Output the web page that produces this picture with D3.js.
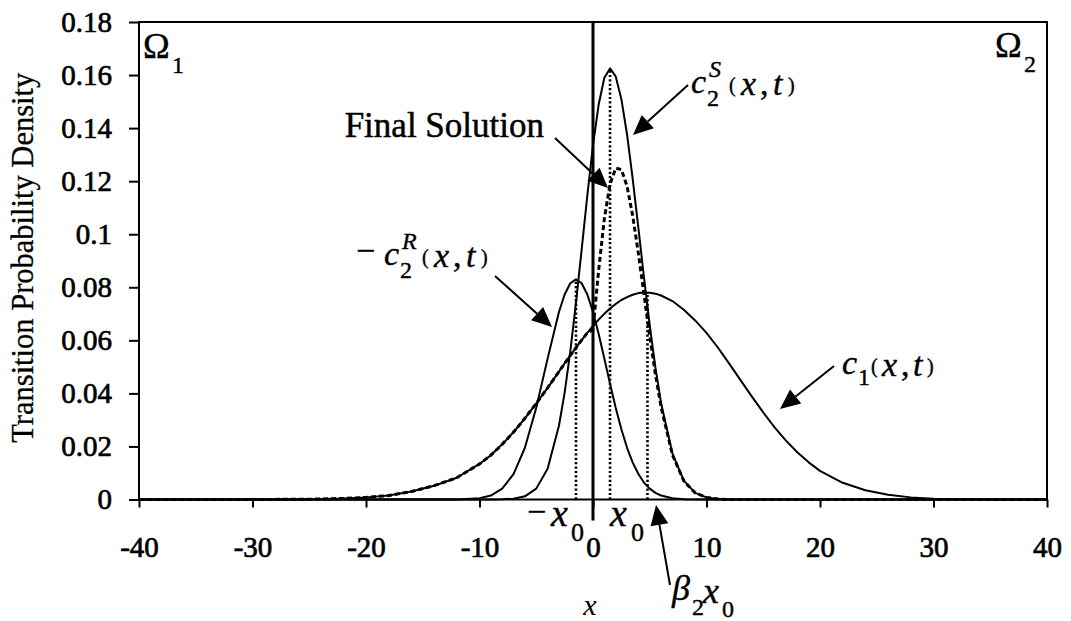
<!DOCTYPE html>
<html>
<head>
<meta charset="utf-8">
<script src="https://cdn.jsdelivr.net/npm/d3@7"></script>
<style>
  html, body { margin: 0; padding: 0; background: #fff; }
  svg { display: block; }
  text { font-family: "Liberation Serif", "Times New Roman", serif; fill: #000; }
</style>
</head>
<body>
<svg id="chart" width="1071" height="621"></svg>
<script>
// Sample positions along x shared by all curves
const xs = [-40,-35,-30,-25,-22,-20,-18,-16,-14,-12,
            -10,-9,-8,-7,-6,-5,-4,-3,
            -2.5,-2,-1.5,-1,-0.5,0,
            0.5,1,1.5,2,2.5,3,3.5,4,4.5,5,5.5,6,
            7,8,9,10,11,12,13,14,15,16,17,18,19,20,
            22,24,26,28,30,35,40];

// c1(x,t): broad density in region 1
const c1Vals = [0,0,0,0.0001,0.0004,0.0008,0.0015,0.0030,0.0052,0.0082,
                0.0134,0.0167,0.0208,0.0254,0.0306,0.0362,0.0421,0.0482,
                0.0513,0.0543,0.0572,0.0601,0.0628,0.0654,
                0.0678,0.0700,0.0720,0.0737,0.0752,0.0763,0.0772,0.0778,0.0780,0.0779,0.0776,0.0769,
                0.0748,0.0715,0.0675,0.0628,0.0573,0.0512,0.0450,0.0388,0.0328,0.0272,0.0222,0.0178,0.0140,0.0108,
                0.0063,0.0035,0.0018,0.0008,0.0003,0,0];

// c2^S(x,t): source part in region 2
const c2SVals = [0,0,0,0,0,0,0,0,0,0,
                 0,0,0.0001,0.0003,0.0012,0.0041,0.0116,0.0278,
                 0.0402,0.0558,0.0741,0.0942,0.1146,0.1335,
                 0.1489,0.1590,0.1625,0.1595,0.1509,0.1376,0.1208,0.1023,0.0834,0.0656,0.0497,0.0363,
                 0.0173,0.0071,0.0025,0.0008,0.0002,0,0,0,0,0,0,0,0,0,
                 0,0,0,0,0,0,0];

// -c2^R(x,t): reflected part, shown with its sign flipped
const negC2RVals = [0,0,0,0,0,0,0,0,0,0,
                    0.0005,0.0015,0.0041,0.0096,0.0195,0.0346,0.0531,0.0707,
                    0.0773,0.0815,0.0830,0.0815,0.0773,0.0707,
                    0.0624,0.0531,0.0436,0.0346,0.0265,0.0195,0.0139,0.0096,0.0063,0.0041,0.0025,0.0015,
                    0.0005,0.0001,0,0,0,0,0,0,0,0,0,0,0,0,
                    0,0,0,0,0,0,0];

// Final solution: c1 on the left of the interface, c2^S + c2^R on the right
const finalVals = [0,0,0,0.0001,0.0004,0.0008,0.0015,0.0030,0.0052,0.0082,
                   0.0134,0.0167,0.0208,0.0254,0.0306,0.0362,0.0421,0.0482,
                   0.0513,0.0543,0.0572,0.0601,0.0628,0.0640,
                   0.0865,0.1059,0.1189,0.1249,0.1244,0.1181,0.1069,0.0927,0.0771,0.0615,0.0472,0.0348,
                   0.0168,0.0070,0.0025,0.0008,0.0002,0,0,0,0,0,0,0,0,0,
                   0,0,0,0,0,0,0];

// Dotted markers at -x0, x0 and beta2*x0, up to the peaks they mark
const dropX   = [-1.5, 1.5, 4.8];
const dropTop = [0.083, 0.1625, 0.078];

const xTicks = [-40,-30,-20,-10,0,10,20,30,40];
const yTicks = [0,0.02,0.04,0.06,0.08,0.1,0.12,0.14,0.16,0.18];
const yTickLabels = ["0","0.02","0.04","0.06","0.08","0.1","0.12","0.14","0.16","0.18"];

const plot = { left: 139, right: 1047, top: 22, bottom: 499.5 };
const SERIF = '"Liberation Serif", "Times New Roman", serif';

const svg = d3.select("#chart");
const x = d3.scaleLinear().domain([-40, 40]).range([plot.left, plot.right]);
const y = d3.scaleLinear().domain([0, 0.18]).range([plot.bottom, plot.top]);

const series = (vals) => xs.map((v, i) => [v, vals[i]]);
const line = d3.line().x(d => x(d[0])).y(d => y(d[1])).curve(d3.curveLinear);

// Curves
const curves = svg.append("g").attr("fill", "none").attr("stroke", "#000").attr("stroke-linejoin", "round");
curves.append("path").attr("d", line(series(c1Vals))).attr("stroke-width", 2);
curves.append("path").attr("d", line(series(c2SVals))).attr("stroke-width", 2);
curves.append("path").attr("d", line(series(negC2RVals))).attr("stroke-width", 2);
curves.append("path").attr("d", line(series(finalVals)))
  .attr("stroke-width", 3).attr("stroke-dasharray", "5,3");

// Dotted drop lines
svg.append("g").selectAll("line").data(dropX).join("line")
  .attr("x1", d => x(d)).attr("x2", d => x(d))
  .attr("y1", y(0)).attr("y2", (d, i) => y(dropTop[i]))
  .attr("stroke", "#000").attr("stroke-width", 2.6).attr("stroke-dasharray", "2.2,2.2");

// Interface at x = 0
svg.append("line")
  .attr("x1", x(0)).attr("x2", x(0))
  .attr("y1", plot.top).attr("y2", plot.bottom + 21)
  .attr("stroke", "#000").attr("stroke-width", 3);

// Frame
svg.append("rect")
  .attr("x", plot.left).attr("y", plot.top)
  .attr("width", plot.right - plot.left).attr("height", plot.bottom - plot.top)
  .attr("fill", "none").attr("stroke", "#000").attr("stroke-width", 2);

// Axes
const yAxis = d3.axisLeft(y).tickValues(yTicks)
  .tickFormat((d, i) => yTickLabels[i]).tickSize(10).tickSizeOuter(0).tickPadding(17);
const gy = svg.append("g").attr("transform", `translate(${plot.left},0)`).call(yAxis);
const xAxis = d3.axisBottom(x).tickValues(xTicks)
  .tickFormat(d3.format("d")).tickSize(8).tickSizeOuter(0).tickPadding(29);
const gx = svg.append("g").attr("transform", `translate(0,${plot.bottom})`).call(xAxis);
[gx, gy].forEach(g => {
  g.attr("font-family", SERIF);
  g.select(".domain").remove();
  g.selectAll(".tick line").attr("stroke", "#000").attr("stroke-width", 2);
  g.selectAll(".tick text")
    .style("font-family", SERIF)
    .style("font-size", "29px")
    .attr("fill", "#000").attr("stroke", "#000").attr("stroke-width", 0.7);
});
gx.selectAll(".tick text").text(d => d < 0 ? "-" + Math.abs(d) : String(d));

// Axis titles
svg.append("text")
  .attr("transform", `translate(33,${(plot.top + plot.bottom) / 2 - 3}) rotate(-90)`)
  .attr("text-anchor", "middle").style("font-size", "30.5px")
  .attr("stroke", "#000").attr("stroke-width", 0.3)
  .text("Transition Probability Density");
svg.append("text")
  .attr("x", 590).attr("y", 615).attr("text-anchor", "middle")
  .style("font-size", "30px").style("font-style", "italic")
  .text("x");

// Rich label helper: each part is placed at its own position
function richLabel(parts) {
  const g = svg.append("g");
  parts.forEach(p => {
    g.append("text")
      .attr("x", p.x).attr("y", p.y)
      .style("font-family", SERIF)
      .style("font-size", p.size + "px")
      .style("font-style", p.italic ? "italic" : "normal")
      .attr("stroke", "#000").attr("stroke-width", 0.4)
      .text(p.t);
  });
  return g;
}

// Region names
richLabel([{ t: "\u03A9", x: 143, y: 58, size: 36 }, { t: "1", x: 172, y: 73, size: 24 }]);
richLabel([{ t: "\u03A9", x: 995, y: 57, size: 36 }, { t: "2", x: 1024, y: 72, size: 24 }]);

// Curve labels
richLabel([
  { t: "c", x: 691, y: 93, size: 34, italic: true },
  { t: "S", x: 709, y: 77, size: 24, italic: true },
  { t: "2", x: 707, y: 106, size: 24 },
  { t: "(", x: 729, y: 92, size: 20 },
  { t: "x", x: 741, y: 95, size: 34, italic: true },
  { t: ",", x: 760, y: 95, size: 34 },
  { t: "t", x: 773, y: 95, size: 34, italic: true },
  { t: ")", x: 788, y: 92, size: 20 }
]);
richLabel([
  { t: "\u2212", x: 356, y: 262, size: 34 },
  { t: "c", x: 384, y: 265, size: 34, italic: true },
  { t: "R", x: 402, y: 249, size: 24, italic: true },
  { t: "2", x: 400, y: 278, size: 24 },
  { t: "(", x: 422, y: 264, size: 20 },
  { t: "x", x: 434, y: 267, size: 34, italic: true },
  { t: ",", x: 453, y: 267, size: 34 },
  { t: "t", x: 466, y: 267, size: 34, italic: true },
  { t: ")", x: 481, y: 264, size: 20 }
]);
richLabel([
  { t: "c", x: 842, y: 374, size: 34, italic: true },
  { t: "1", x: 858, y: 385, size: 24 },
  { t: "(", x: 871, y: 373, size: 20 },
  { t: "x", x: 882, y: 376, size: 34, italic: true },
  { t: ",", x: 901, y: 376, size: 34 },
  { t: "t", x: 913, y: 376, size: 34, italic: true },
  { t: ")", x: 927, y: 373, size: 20 }
]);
richLabel([
  { t: "\u2212", x: 527, y: 523, size: 34 },
  { t: "x", x: 551, y: 526, size: 38, italic: true },
  { t: "0", x: 571, y: 541, size: 26 }
]);
richLabel([
  { t: "x", x: 610, y: 526, size: 38, italic: true },
  { t: "0", x: 631, y: 541, size: 26 }
]);
richLabel([
  { t: "\u03B2", x: 672, y: 600, size: 36, italic: true },
  { t: "2", x: 692, y: 615, size: 24 },
  { t: "x", x: 703, y: 603, size: 36, italic: true },
  { t: "0", x: 722, y: 617, size: 24 }
]);
svg.append("text")
  .attr("x", 544).attr("y", 137).attr("text-anchor", "end")
  .style("font-size", "35px")
  .attr("stroke", "#000").attr("stroke-width", 0.5)
  .text("Final Solution");

// Arrows: straight shaft ending in a filled head at the tip
const arrows = [
  { from: [688, 85],  to: [633, 135] },
  { from: [555, 138], to: [608, 188] },
  { from: [495, 276], to: [552, 327] },
  { from: [834, 366], to: [780, 409] },
  { from: [670, 585], to: [656, 505] }
];
const ag = svg.append("g");
arrows.forEach(a => {
  const [x1, y1] = a.from, [x2, y2] = a.to;
  const ang = Math.atan2(y2 - y1, x2 - x1);
  const len = 20, half = 9;
  const bx = x2 - len * Math.cos(ang), by = y2 - len * Math.sin(ang);
  ag.append("line").attr("x1", x1).attr("y1", y1).attr("x2", bx).attr("y2", by)
    .attr("stroke", "#000").attr("stroke-width", 2);
  const p1 = [bx + half * Math.sin(ang), by - half * Math.cos(ang)];
  const p2 = [bx - half * Math.sin(ang), by + half * Math.cos(ang)];
  ag.append("path").attr("d", `M${x2},${y2}L${p1[0]},${p1[1]}L${p2[0]},${p2[1]}Z`).attr("fill", "#000");
});
</script>
</body>
</html>
